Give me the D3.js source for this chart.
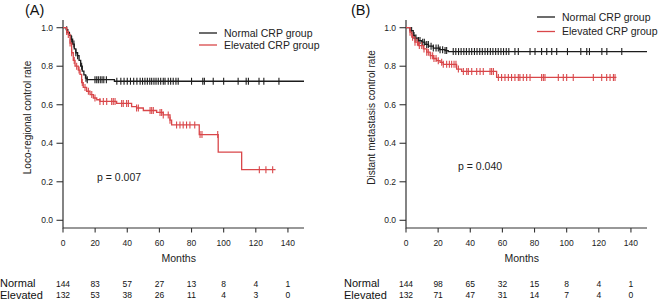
<!DOCTYPE html>
<html>
<head>
<meta charset="utf-8">
<script src="https://cdn.jsdelivr.net/npm/d3@7"></script>
<style>
  body { margin: 0; background: #fff; }
  svg { display: block; font-family: "Liberation Sans", Arial, sans-serif; }
</style>
</head>
<body>
<svg id="chart" width="660" height="301"></svg>
<script>
// Kaplan-Meier step data: [month, survival after the drop]
const groups = ["Normal CRP group", "Elevated CRP group"];
const riskLabels = ["Normal", "Elevated"];
const xTicks = [0, 20, 40, 60, 80, 100, 120, 140];
const yTicks = [0, 0.2, 0.4, 0.6, 0.8, 1.0];

// panel A: loco-regional control
const locoNormalSteps = [[2, 0.99], [3, 0.975], [4, 0.96], [5, 0.94], [6, 0.915], [7, 0.89], [8, 0.87],
  [9, 0.855], [10, 0.83], [11, 0.80], [12, 0.775], [13, 0.755], [14, 0.738], [15, 0.73], [32, 0.722]];
const locoNormalEnd = 150;
const locoNormalCensor = [2.3, 5.4, 6.8, 8, 9.1, 11.6, 14.3, 15.1, 19.9, 21, 22, 23.2, 24.3, 25.4, 27,
  33.5, 36, 38, 40, 42, 44, 46, 48, 49.5, 51, 52.5, 54, 55.2, 56.6, 57.9, 59.3, 60.8, 62.4, 63.5, 65.5,
  67, 68.6, 70.3, 71.7, 80, 87, 88, 93.5, 100, 109, 114, 115.4, 122, 125, 134.4];

const locoElevSteps = [[2.3, 0.98], [3.3, 0.965], [4.4, 0.92], [5.4, 0.87], [6.4, 0.83], [7.5, 0.80],
  [9.5, 0.78], [10.6, 0.758], [11.6, 0.715], [12.6, 0.69], [14.7, 0.67], [16.8, 0.653], [18.9, 0.635],
  [21, 0.626], [23, 0.617], [33.4, 0.607], [42.7, 0.59], [45.8, 0.583], [50, 0.57], [58.3, 0.56],
  [62.4, 0.547], [66.6, 0.52], [67.6, 0.495], [84.8, 0.445], [96.6, 0.354], [111.2, 0.263]];
const locoElevEnd = 132.3;
const locoElevCensor = [2.3, 3.3, 4.4, 5.4, 7, 8.5, 10, 12, 13.7, 15.8, 17.9, 19.9, 23, 25.1, 27.2,
  30.3, 31.3, 32.4, 36.5, 37.5, 39.6, 40.7, 45.8, 46.9, 54.2, 55.2, 56.2, 60.4, 61.4, 62.4, 65.5, 66.6,
  70.7, 72.8, 74.8, 76.9, 79, 82, 85.3, 86.5, 96.3, 122.2, 126.3, 130.5];

const locoRiskNormal = [144, 83, 57, 27, 13, 8, 4, 1];
const locoRiskElev = [132, 53, 38, 26, 11, 4, 3, 0];

// panel B: distant metastasis control
const distNormalSteps = [[2.5, 0.985], [4.5, 0.96], [5.6, 0.946], [7.7, 0.933], [9.8, 0.925],
  [11.8, 0.913], [14, 0.904], [17, 0.894], [21, 0.886], [24.3, 0.881], [26.3, 0.876]];
const distNormalEnd = 150;
const distNormalCensor = [3.5, 5, 6.2, 7.7, 8.7, 10.4, 11.4, 12.9, 13.9, 15.6, 17, 18.7, 20.1, 21.2,
  22.8, 24.3, 25.3, 29.4, 31, 32.7, 34.3, 36, 37.6, 39.3, 40.9, 42.6, 44.2, 45.9, 47.5, 49.2, 50.8,
  52.5, 54.1, 55.8, 57.4, 59.1, 60.7, 62.4, 64, 67.8, 69.9, 77.2, 80.3, 84.4, 87.6, 90.7, 93.8, 100.5,
  108.8, 112.5, 114.2, 121.9, 125, 134.3];

const distElevSteps = [[2.5, 0.977], [3.6, 0.951], [5.6, 0.925], [7.7, 0.907], [10.8, 0.89],
  [12.9, 0.873], [15, 0.855], [17, 0.84], [19.1, 0.829], [21.2, 0.82], [23.2, 0.81], [31.5, 0.785],
  [34.6, 0.773], [56.4, 0.742]];
const distElevEnd = 131;
const distElevCensor = [2.5, 4.1, 5.6, 7.1, 8.3, 9.8, 11.2, 12.9, 13.9, 15.4, 16.6, 17.4, 18.7, 20.1,
  22.2, 23.2, 25.3, 27, 28.4, 29.9, 31.1, 32.6, 35.7, 37.8, 38.8, 40.9, 44, 46.1, 48.1, 52.3, 53.3,
  54.4, 57.5, 59.5, 61.6, 63.7, 65.7, 67.8, 69.9, 70.9, 73, 75.1, 77.2, 84.4, 85.5, 86.5, 94.8, 97.9,
  100, 104.1, 116.6, 121.8, 124.9, 127, 129.1, 130.1];

const distRiskNormal = [144, 98, 65, 32, 15, 8, 4, 1];
const distRiskElev = [132, 71, 47, 31, 14, 7, 4, 0];

const colors = ["#1c1c1c", "#d9474a"];
const svg = d3.select("#chart");

// survival value at time t from a step list
function survAt(steps, t) {
  let s = 1;
  steps.forEach(d => { if (d[0] <= t) s = d[1]; });
  return s;
}

function drawPanel(cfg) {
  const x = d3.scaleLinear().domain([0, 150]).range([cfg.left, cfg.left + 241]);
  const y = d3.scaleLinear().domain([-0.04, 1.04]).range([228, 20]);
  const g = svg.append("g");

  // L-shaped box
  g.append("path")
    .attr("d", `M${x(0)},${y(1.04)}V${y(-0.04)}H${x(150)}`)
    .attr("fill", "none").attr("stroke", "#333").attr("stroke-width", 1.2);

  // y axis ticks + labels
  g.selectAll(".yt").data(yTicks).join("line")
    .attr("x1", x(0) - 6.5).attr("x2", x(0))
    .attr("y1", d => y(d)).attr("y2", d => y(d))
    .attr("stroke", "#333").attr("stroke-width", 1.1);
  g.selectAll(".yl").data(yTicks).join("text")
    .attr("x", x(0) - 10).attr("y", d => y(d) + 3)
    .attr("text-anchor", "end").attr("font-size", 8.5).attr("fill", "#222")
    .text(d => d3.format(".1f")(d));

  // x axis ticks + labels
  g.selectAll(".xt").data(xTicks).join("line")
    .attr("x1", d => x(d)).attr("x2", d => x(d))
    .attr("y1", y(-0.04)).attr("y2", y(-0.04) + 4.5)
    .attr("stroke", "#333").attr("stroke-width", 1.1);
  g.selectAll(".xl").data(xTicks).join("text")
    .attr("x", d => x(d)).attr("y", 246)
    .attr("text-anchor", "middle").attr("font-size", 8.5).attr("fill", "#222")
    .text(d => d);

  g.append("text").attr("x", x(72)).attr("y", 261.5)
    .attr("text-anchor", "middle").attr("font-size", 10.5).attr("fill", "#222")
    .text("Months");

  g.append("text")
    .attr("transform", `translate(${cfg.ylabX},${cfg.ylabY}) rotate(-90)`)
    .attr("text-anchor", "middle").attr("font-size", 10).attr("fill", "#222")
    .text(cfg.ylab);

  g.append("text").attr("x", cfg.tagX).attr("y", 15)
    .attr("font-size", 14.5).attr("fill", "#111").text(cfg.tag);

  // curves
  cfg.curves.forEach((c, i) => {
    const pts = [[0, 1]];
    c.steps.forEach(d => { pts.push([d[0], pts[pts.length - 1][1]]); pts.push(d); });
    pts.push([c.end, pts[pts.length - 1][1]]);
    g.append("path")
      .attr("d", d3.line().x(d => x(d[0])).y(d => y(d[1]))(pts))
      .attr("fill", "none").attr("stroke", colors[i]).attr("stroke-width", 1.3);
    g.selectAll(null).data(c.censor).join("line")
      .attr("x1", d => x(d)).attr("x2", d => x(d))
      .attr("y1", d => y(survAt(c.steps, d)) - 3.5)
      .attr("y2", d => y(survAt(c.steps, d)) + 3.5)
      .attr("stroke", colors[i]).attr("stroke-width", 1.1);
  });

  // legend
  groups.forEach((name, i) => {
    const ly = cfg.legY + i * cfg.legGap;
    g.append("line").attr("x1", cfg.legX).attr("x2", cfg.legX + 18)
      .attr("y1", ly).attr("y2", ly).attr("stroke", colors[i]).attr("stroke-width", 1.3);
    g.append("text").attr("x", cfg.legX + 25).attr("y", ly + 3.8)
      .attr("font-size", 10.5).attr("fill", "#222").text(name);
  });

  g.append("text").attr("x", cfg.pX).attr("y", cfg.pY)
    .attr("font-size", 10.5).attr("fill", "#222").text(cfg.p);

  // numbers at risk
  [cfg.riskNormal, cfg.riskElev].forEach((row, r) => {
    const by = 287 + r * 10.5;
    g.append("text").attr("x", cfg.riskX).attr("y", by + (r ? 1 : 0))
      .attr("font-size", 11).attr("fill", "#111").text(riskLabels[r]);
    g.selectAll(null).data(row).join("text")
      .attr("x", (d, k) => x(xTicks[k])).attr("y", by)
      .attr("text-anchor", "middle").attr("font-size", 8.5).attr("fill", "#111")
      .text(d => d);
  });
}

drawPanel({
  left: 63, tag: "(A)", tagX: 25, ylab: "Loco-regional control rate", ylabX: 31, ylabY: 117.5,
  legX: 199, legY: 33, legGap: 12, p: "p = 0.007", pX: 97, pY: 180.5, riskX: 0,
  riskNormal: locoRiskNormal, riskElev: locoRiskElev,
  curves: [
    { steps: locoNormalSteps, end: locoNormalEnd, censor: locoNormalCensor },
    { steps: locoElevSteps, end: locoElevEnd, censor: locoElevCensor }
  ]
});

drawPanel({
  left: 406, tag: "(B)", tagX: 351, ylab: "Distant metastasis control rate", ylabX: 375, ylabY: 117.5,
  legX: 537, legY: 17, legGap: 14.5, p: "p = 0.040", pX: 458, pY: 169.5, riskX: 344,
  riskNormal: distRiskNormal, riskElev: distRiskElev,
  curves: [
    { steps: distNormalSteps, end: distNormalEnd, censor: distNormalCensor },
    { steps: distElevSteps, end: distElevEnd, censor: distElevCensor }
  ]
});
</script>
</body>
</html>
